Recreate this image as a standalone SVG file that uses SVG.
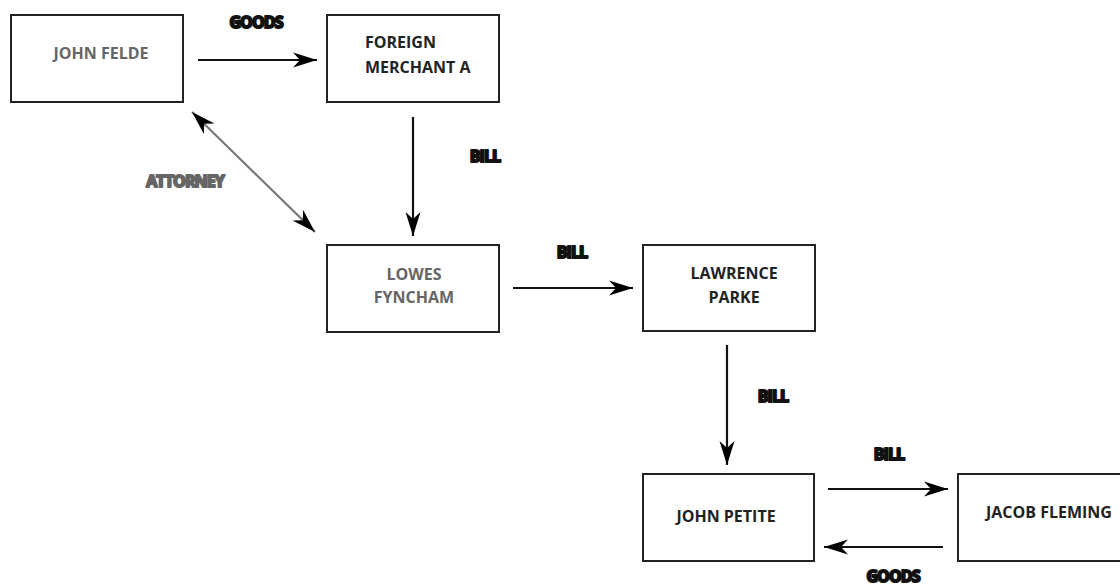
<svg xmlns="http://www.w3.org/2000/svg" width="1120" height="585" viewBox="0 0 1120 585">
<style>
.box{fill:#fff;stroke:#222;stroke-width:2}
.nt{font-family:"Open Sans","Liberation Sans",sans-serif;font-weight:bold;font-size:16px;fill:#222}
.gray{fill:#666}
.lbl{font-family:"Open Sans","Liberation Sans",sans-serif;font-weight:bold;font-size:16px;fill:#111;stroke:#111;stroke-width:2;stroke-linejoin:round;text-anchor:middle;letter-spacing:-0.9px}
.lblg{fill:#666;stroke:#666}
.edge{stroke:#111;stroke-width:2.2;fill:none}
.edgeg{stroke:#777}
</style>
<defs>
<marker id="ah" markerUnits="userSpaceOnUse" markerWidth="26" markerHeight="16" refX="24" refY="8" orient="auto-start-reverse" viewBox="0 0 26 16">
<path d="M0,0.5 L24,8 L0,15.5 L7,8 Z" fill="#000"/>
</marker>
</defs>
<rect width="1120" height="585" fill="#fff"/>
<g id="connectors">
<line class="edge" x1="198" y1="60" x2="317" y2="60" marker-end="url(#ah)"/>
<line class="edge" x1="413" y1="117" x2="413" y2="236" marker-end="url(#ah)"/>
<line class="edge edgeg" x1="192" y1="112" x2="315" y2="232" marker-start="url(#ah)" marker-end="url(#ah)"/>
<line class="edge" x1="513" y1="288" x2="633" y2="288" marker-end="url(#ah)"/>
<line class="edge" x1="727" y1="345" x2="727" y2="465" marker-end="url(#ah)"/>
<line class="edge" x1="828" y1="489" x2="948" y2="489" marker-end="url(#ah)"/>
<line class="edge" x1="943" y1="547" x2="824" y2="547" marker-end="url(#ah)"/>
<text class="lbl" x="256" y="28">GOODS</text>
<text class="lbl" x="485" y="162">BILL</text>
<text class="lbl lblg" x="185" y="187">ATTORNEY</text>
<text class="lbl" x="572" y="258">BILL</text>
<text class="lbl" x="773" y="402">BILL</text>
<text class="lbl" x="889" y="460">BILL</text>
<text class="lbl" x="893" y="582">GOODS</text>
</g>
<g id="john-felde">
<rect class="box" x="11" y="15" width="172" height="87"/>
<text class="nt gray" x="101" y="59" text-anchor="middle">JOHN FELDE</text>
</g>
<g id="foreign-merchant-a">
<rect class="box" x="327" y="15" width="172" height="87"/>
<text class="nt" x="365" y="48">FOREIGN</text>
<text class="nt" x="365" y="73">MERCHANT A</text>
</g>
<g id="lowes-fyncham">
<rect class="box" x="327" y="245" width="172" height="87"/>
<text class="nt gray" x="414" y="280" text-anchor="middle">LOWES</text>
<text class="nt gray" x="414" y="303" text-anchor="middle">FYNCHAM</text>
</g>
<g id="lawrence-parke">
<rect class="box" x="643" y="245" width="172" height="86"/>
<text class="nt" x="734" y="279" text-anchor="middle">LAWRENCE</text>
<text class="nt" x="734" y="303" text-anchor="middle">PARKE</text>
</g>
<g id="john-petite">
<rect class="box" x="643" y="474" width="171" height="87"/>
<text class="nt" x="726" y="522" text-anchor="middle">JOHN PETITE</text>
</g>
<g id="jacob-fleming">
<rect class="box" x="958" y="474" width="180" height="87"/>
<text class="nt" x="986" y="518">JACOB FLEMING</text>
</g>
</svg>
